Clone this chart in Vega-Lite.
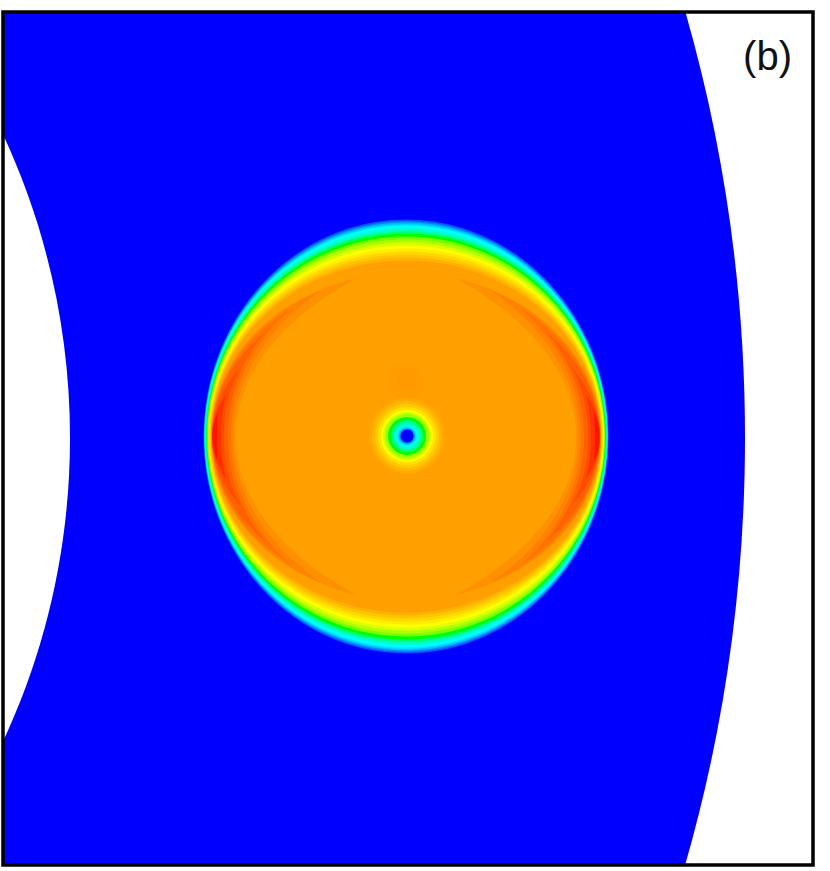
{"$schema":"https://vega.github.io/schema/vega-lite/v6.json","width":810,"height":853,"autosize":{"type":"none"},"padding":{"left":3,"top":12,"right":17,"bottom":6},"background":"white","view":{"stroke":null},
"layer":[
{"data":{"values":[{"x":-797,"y":438,"radius":1542,"value":0}]},"mark":{"type":"point","filled":true,"clip":true,"opacity":1,"shape":"M-1,0A1,1 0 1 1 1,0A1,1 0 1 1 -1,0Z"},"encoding":{"x":{"field":"x","type":"quantitative","scale":{"domain":[3,813],"nice":false,"zero":false},"axis":null},"y":{"field":"y","type":"quantitative","scale":{"domain":[865,12],"nice":false,"zero":false},"axis":null},"size":{"field":"radius","type":"quantitative","legend":null,"scale":{"type":"pow","exponent":2,"domain":[0,2000],"range":[0,16000000]}},"color":{"field":"value","type":"quantitative","legend":null,"scale":{"domain":[0,1,2,3,4,5],"range":["#0000ff","#00ffff","#00ff00","#ffff00","#ff9f00","#ff1400"]}}}},
{"data":{"values":[{"x":-648.6,"y":438,"radius":718.6}]},"mark":{"type":"point","filled":true,"clip":true,"opacity":1,"color":"#ffffff","shape":"M-1,0A1,1 0 1 1 1,0A1,1 0 1 1 -1,0Z"},"encoding":{"x":{"field":"x","type":"quantitative"},"y":{"field":"y","type":"quantitative"},"size":{"field":"radius","type":"quantitative","legend":null}}},
{"data":{"values":[
{"band":"r1","x":406,"y":436.5,"radius":217,"value":0.15},
{"band":"r2","x":406,"y":436.5,"radius":215.5,"value":0.35},
{"band":"r3","x":406,"y":436.5,"radius":214,"value":0.6},
{"band":"r4","x":406,"y":436.5,"radius":212.5,"value":0.8},
{"band":"r5","x":406,"y":436.5,"radius":211,"value":1.0},
{"band":"r6","x":406,"y":436.5,"radius":209,"value":1.25},
{"band":"r7","x":406,"y":436.5,"radius":207,"value":1.5},
{"band":"r8","x":406,"y":436.5,"radius":205,"value":1.75},
{"band":"r9","x":406,"y":436.5,"radius":203,"value":2},
{"band":"r10","x":406,"y":436.5,"radius":200,"value":2.25},
{"band":"r11","x":406,"y":436.5,"radius":197,"value":2.5},
{"band":"r12","x":406,"y":436.5,"radius":194,"value":2.75},
{"band":"r13","x":406,"y":436.5,"radius":191,"value":3},
{"band":"r14","x":406,"y":436.5,"radius":188,"value":3.2},
{"band":"r15","x":406,"y":436.5,"radius":185,"value":3.4},
{"band":"r16","x":406,"y":436.5,"radius":182,"value":3.6},
{"band":"r17","x":406,"y":436.5,"radius":179,"value":3.8},
{"band":"r18","x":406,"y":436.5,"radius":176,"value":4},
{"band":"o","x":406,"y":382,"radius":18,"value":4.03},
{"band":"o","x":406,"y":382,"radius":10,"value":4.06},
{"band":"c1","x":406,"y":436.5,"radius":100,"value":4.15},
{"band":"c2","x":406,"y":436.5,"radius":100,"value":4.3},
{"band":"c3","x":406,"y":436.5,"radius":100,"value":4.45},
{"band":"c4","x":406,"y":436.5,"radius":100,"value":4.6},
{"band":"c5","x":406,"y":436.5,"radius":100,"value":4.75},
{"band":"c6","x":406,"y":436.5,"radius":100,"value":4.9},
{"band":"c7","x":406,"y":436.5,"radius":100,"value":5},
{"band":"o","x":407,"y":436,"radius":38,"value":3.9},
{"band":"o","x":407,"y":436,"radius":35,"value":3.75},
{"band":"o","x":407,"y":436,"radius":32,"value":3.55},
{"band":"o","x":407,"y":436,"radius":29,"value":3.3},
{"band":"o","x":407,"y":436,"radius":26,"value":3},
{"band":"o","x":407,"y":436,"radius":24,"value":2.7},
{"band":"o","x":407,"y":436,"radius":22,"value":2.4},
{"band":"o","x":407,"y":436,"radius":19,"value":2},
{"band":"o","x":407,"y":436,"radius":16,"value":1.7},
{"band":"o","x":407,"y":436,"radius":13.5,"value":1.4},
{"band":"o","x":407,"y":436,"radius":11,"value":1.1},
{"band":"o","x":407,"y":436,"radius":9.5,"value":0.8},
{"band":"o","x":407,"y":436,"radius":8,"value":0.4},
{"band":"o","x":407,"y":436,"radius":6.5,"value":0}
]},"mark":{"type":"point","filled":true,"clip":true,"opacity":1},"encoding":{"x":{"field":"x","type":"quantitative"},"y":{"field":"y","type":"quantitative"},"size":{"field":"radius","type":"quantitative","legend":null},"color":{"field":"value","type":"quantitative","legend":null},"shape":{"field":"band","type":"nominal","legend":null,"scale":{"domain":["r1","r2","r3","r4","r5","r6","r7","r8","r9","r10","r11","r12","r13","r14","r15","r16","r17","r18","c1","c2","c3","c4","c5","c6","c7","o"],"range":[
"M-.933,0A.933,1 0 1 1 .933,0A.933,1 0 1 1 -.933,0Z",
"M-.938,0A.938,1 0 1 1 .938,0A.938,1 0 1 1 -.938,0Z",
"M-.942,0A.942,1 0 1 1 .942,0A.942,1 0 1 1 -.942,0Z",
"M-.948,0A.948,1 0 1 1 .948,0A.948,1 0 1 1 -.948,0Z",
"M-.955,0A.955,1 0 1 1 .955,0A.955,1 0 1 1 -.955,0Z",
"M-.962,0A.962,1 0 1 1 .962,0A.962,1 0 1 1 -.962,0Z",
"M-.969,0A.969,1 0 1 1 .969,0A.969,1 0 1 1 -.969,0Z",
"M-.976,0A.976,1 0 1 1 .976,0A.976,1 0 1 1 -.976,0Z",
"M-.983,0A.983,1 0 1 1 .983,0A.983,1 0 1 1 -.983,0Z",
"M-.995,0A.995,1 0 1 1 .995,0A.995,1 0 1 1 -.995,0Z",
"M-1.008,0A1.008,1 0 1 1 1.008,0A1.008,1 0 1 1 -1.008,0Z",
"M-1.021,0A1.021,1 0 1 1 1.021,0A1.021,1 0 1 1 -1.021,0Z",
"M-1.034,0A1.034,1 0 1 1 1.034,0A1.034,1 0 1 1 -1.034,0Z",
"M-1.048,0A1.048,1 0 1 1 1.048,0A1.048,1 0 1 1 -1.048,0Z",
"M-1.062,0A1.062,1 0 1 1 1.062,0A1.062,1 0 1 1 -1.062,0Z",
"M-1.077,0A1.077,1 0 1 1 1.077,0A1.077,1 0 1 1 -1.077,0Z",
"M-1.092,0A1.092,1 0 1 1 1.092,0A1.092,1 0 1 1 -1.092,0Z",
"M-1.108,0A1.108,1 0 1 1 1.108,0A1.108,1 0 1 1 -1.108,0Z",
"M-.5,-1.58A1.95,1.635 0 0 0 -.5,1.58A4,2.21 0 0 1 -.5,-1.58ZM.5,-1.58A1.95,1.635 0 0 1 .5,1.58A4,2.21 0 0 0 .5,-1.58Z",
"M-.85,-1.46A1.945,1.623 0 0 0 -.85,1.46A2.9,2.04 0 0 1 -.85,-1.46ZM.85,-1.46A1.945,1.623 0 0 1 .85,1.46A2.9,2.04 0 0 0 .85,-1.46Z",
"M-1.15,-1.28A1.94,1.589 0 0 0 -1.15,1.28A2,1.79 0 0 1 -1.15,-1.28ZM1.15,-1.28A1.94,1.589 0 0 1 1.15,1.28A2,1.79 0 0 0 1.15,-1.28Z",
"M-1.4,-1.05A1.94,1.517 0 0 0 -1.4,1.05A1.27,1.47 0 0 1 -1.4,-1.05ZM1.4,-1.05A1.94,1.517 0 0 1 1.4,1.05A1.27,1.47 0 0 0 1.4,-1.05Z",
"M-1.65,-.7A1.94,1.331 0 0 0 -1.65,.7A.57,.98 0 0 1 -1.65,-.7ZM1.65,-.7A1.94,1.331 0 0 1 1.65,.7A.57,.98 0 0 0 1.65,-.7Z",
"M-1.8,-.42A1.94,1.126 0 0 0 -1.8,.42A1.85,1.819 0 0 1 -1.8,-.42ZM1.8,-.42A1.94,1.126 0 0 1 1.8,.42A1.85,1.819 0 0 0 1.8,-.42Z",
"M-1.88,-.25A1.935,1.057 0 0 0 -1.88,.25A1.89,2.44 0 0 1 -1.88,-.25ZM1.88,-.25A1.935,1.057 0 0 1 1.88,.25A1.89,2.44 0 0 0 1.88,-.25Z",
"M-1,0A1,1 0 1 1 1,0A1,1 0 1 1 -1,0Z"
]}}}},
{"data":{"values":[{"x":767.5,"y":70,"label":"(b)"}]},"mark":{"type":"text","font":"Liberation Sans","fontSize":40,"align":"center","baseline":"alphabetic","color":"#111111"},"encoding":{"x":{"field":"x","type":"quantitative"},"y":{"field":"y","type":"quantitative"},"text":{"field":"label","type":"nominal"}}},
{"data":{"values":[{"x0":3,"x1":813,"y0":12,"y1":865}]},"mark":{"type":"rect","filled":false,"stroke":"#000000","strokeWidth":3.5},"encoding":{"x":{"field":"x0","type":"quantitative"},"x2":{"field":"x1"},"y":{"field":"y0","type":"quantitative"},"y2":{"field":"y1"}}}
]}
